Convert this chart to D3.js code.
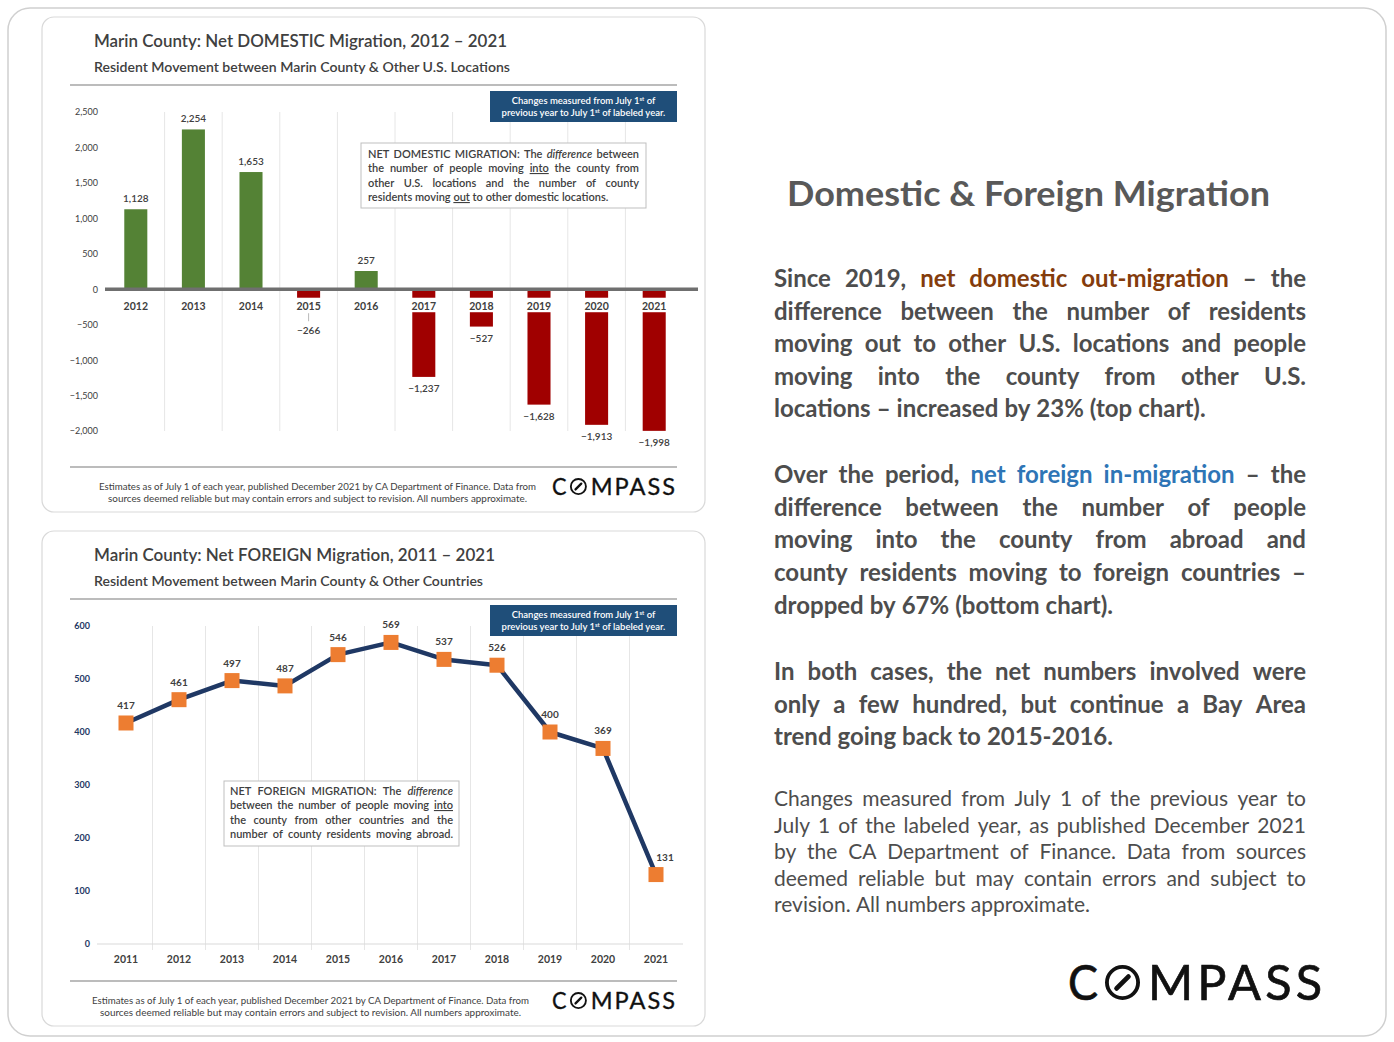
<!DOCTYPE html>
<html>
<head>
<meta charset="utf-8">
<script src="https://cdn.jsdelivr.net/npm/d3@7"></script>
<style>
  body { margin: 0; background: #fff; }
  svg text { font-family: Lato, "Open Sans", sans-serif; }
</style>
</head>
<body>
<svg id="lienzo" width="1394" height="1042"></svg>
<script>
// datos
let domYears = ["2012","2013","2014","2015","2016","2017","2018","2019","2020","2021"];
let domValues = [1128, 2254, 1653, -266, 257, -1237, -527, -1628, -1913, -1998];
let domTicks = [2500, 2000, 1500, 1000, 500, 0, -500, -1000, -1500, -2000];

let forYears = ["2011","2012","2013","2014","2015","2016","2017","2018","2019","2020","2021"];
let forValues = [417, 461, 497, 487, 546, 569, 537, 526, 400, 369, 131];
let forTicks = [0, 100, 200, 300, 400, 500, 600];

let gris = "#404040";
let verde = "#548235";
let rojo = "#a00000";
let navy = "#1f3864";
let naranja = "#ed7d31";
let caja = "#1f4e79";

let svg = d3.select("#lienzo");
let fmt = d3.format(",");

// marco exterior
svg.append("rect")
    .attr("x", 8).attr("y", 8).attr("width", 1378).attr("height", 1028)
    .attr("rx", 22)
    .style("fill", "#fff").style("stroke", "#d0d0d0").style("stroke-width", 1.5);

// ---------- utilidades ----------
function ajustar(sel, w) {
    sel.attr("textLength", w).attr("lengthAdjust", "spacingAndGlyphs");
    return sel;
}

function parrafo(g, lines, o) {
    let rows = lines.map((segs, li) => {
        let words = [];
        segs.forEach(s => {
            let st = (typeof s === "string") ? {t: s} : s;
            st.t.split(" ").filter(t => t != "").forEach(t => words.push(Object.assign({}, st, {t: t})));
        });
        let nodes = words.map(w => {
            let t = g.append("text")
                .attr("y", o.y + li * o.lh)
                .style("font-size", o.size + "px")
                .style("font-weight", o.weight)
                .style("fill", w.c || o.color)
                .text(w.t);
            if (w.i) t.style("font-style", "italic");
            if (w.u) t.style("text-decoration", "underline");
            return t;
        });
        let ws = nodes.map(n => n.node().getComputedTextLength());
        return {nodes: nodes, ws: ws, full: li < lines.length - 1 || o.lastFull};
    });
    let W = o.x1 - o.x0;
    let gapMin = o.size * 0.24;
    let k = 1;
    rows.forEach(r => {
        if (r.full) {
            let need = (W - gapMin * (r.ws.length - 1)) / d3.sum(r.ws);
            k = Math.min(k, need);
        }
    });
    rows.forEach(r => {
        let ws = r.ws.map(w => w * k);
        let gap = (r.full && ws.length > 1) ? (W - d3.sum(ws)) / (ws.length - 1) : o.size * 0.25;
        let x = o.x0;
        r.nodes.forEach((n, i) => {
            n.attr("x", x);
            if (k < 1) ajustar(n, ws[i]);
            x += ws[i] + gap;
        });
    });
}

function logo(g, x, y, w) {
    let h = w * 35 / 254;
    let fs = h / 0.72;
    let sw = h * 0.11;
    g.append("text").attr("x", x).attr("y", y)
        .style("font-size", fs + "px").style("font-weight", 400).style("fill", "#111")
        .style("stroke", "#111").style("stroke-width", h * 0.02)
        .attr("textLength", w * 30 / 254).attr("lengthAdjust", "spacingAndGlyphs")
        .text("C");
    let cx = x + w * 54.5 / 254, cy = y - h / 2, r = h / 2 - sw / 2;
    g.append("circle").attr("cx", cx).attr("cy", cy).attr("r", r)
        .style("fill", "none").style("stroke", "#111").style("stroke-width", sw);
    g.append("line")
        .attr("x1", cx - r * 0.38).attr("y1", cy + r * 0.38)
        .attr("x2", cx + r * 0.38).attr("y2", cy - r * 0.38)
        .style("stroke", "#111").style("stroke-width", sw * 1.25).style("stroke-linecap", "round");
    g.append("text").attr("x", x + w * 80 / 254).attr("y", y)
        .style("font-size", fs + "px").style("font-weight", 400).style("fill", "#111")
        .style("stroke", "#111").style("stroke-width", h * 0.02)
        .attr("textLength", w * 174 / 254).attr("lengthAdjust", "spacing")
        .text("MPASS");
}

function tarjeta(y0, titulo, tw, subtitulo, sw) {
    let g = svg.append("g");
    g.append("rect")
        .attr("x", 42).attr("y", y0).attr("width", 663).attr("height", 495).attr("rx", 12)
        .style("fill", "#fff").style("stroke", "#d9d9d9").style("stroke-width", 1.2);
    ajustar(g.append("text").attr("x", 94).attr("y", y0 + 30)
        .style("font-size", "17px").style("font-weight", 600).style("fill", gris)
        .text(titulo), tw);
    ajustar(g.append("text").attr("x", 94).attr("y", y0 + 55)
        .style("font-size", "12.5px").style("font-weight", 600).style("fill", gris)
        .text(subtitulo), sw);
    g.append("line").attr("x1", 70).attr("x2", 677).attr("y1", y0 + 68).attr("y2", y0 + 68)
        .style("stroke", "#a6a6a6").style("stroke-width", 1.5);
    g.append("line").attr("x1", 70).attr("x2", 677).attr("y1", y0 + 450).attr("y2", y0 + 450)
        .style("stroke", "#a6a6a6").style("stroke-width", 1.5);
    return g;
}

// caja azul, se dibuja al final para quedar encima de la rejilla
function cajaAzul(g, y0) {
    let b = g.append("g");
    b.append("rect").attr("x", 490).attr("y", y0 + 74).attr("width", 187).attr("height", 31)
        .style("fill", caja);
    let t1 = b.append("text").attr("x", 583.5).attr("y", y0 + 86.5)
        .style("text-anchor", "middle").style("font-size", "9.5px").style("font-weight", 600).style("fill", "#fff");
    t1.append("tspan").text("Changes measured from July 1");
    t1.append("tspan").attr("dy", -3).style("font-size", "6px").text("st");
    t1.append("tspan").attr("dy", 3).text(" of");
    let t2 = b.append("text").attr("x", 583.5).attr("y", y0 + 99)
        .style("text-anchor", "middle").style("font-size", "9.5px").style("font-weight", 600).style("fill", "#fff");
    t2.append("tspan").text("previous year to July 1");
    t2.append("tspan").attr("dy", -3).style("font-size", "6px").text("st");
    t2.append("tspan").attr("dy", 3).text(" of labeled year.");
}

function pie(g, y0, x1a, x1b, x2a, x2b) {
    ajustar(g.append("text").attr("x", x1a).attr("y", y0 + 473)
        .style("font-size", "8.5px").style("fill", gris)
        .text("Estimates as of July 1 of each year, published December 2021 by CA Department of Finance. Data from"), x1b - x1a);
    ajustar(g.append("text").attr("x", x2a).attr("y", y0 + 485)
        .style("font-size", "8.5px").style("fill", gris)
        .text("sources deemed reliable but may contain errors and subject to revision. All numbers approximate."), x2b - x2a);
    logo(g, 552, y0 + 478, 123);
}

// ---------- grafica 1: migracion domestica ----------
let g1 = tarjeta(17, "Marin County: Net DOMESTIC Migration, 2012 – 2021", 413,
    "Resident Movement between Marin County & Other U.S. Locations", 416);

let x1 = d3.scaleBand().domain(domYears).range([107, 683]).paddingInner(0).paddingOuter(0);
let y1 = d3.scaleLinear().domain([-2000, 2500]).range([431, 112]);
let bw1 = x1.bandwidth() * 0.4;

g1.selectAll(".grid1")
    .data(domYears.slice(1))
    .enter()
    .append("line")
    .attr("x1", d => x1(d)).attr("x2", d => x1(d))
    .attr("y1", y1(2500)).attr("y2", y1(-2000))
    .style("stroke", "#e6e6e6").style("stroke-width", 1);

let ax1 = g1.append("g")
    .attr("transform", "translate(98,0)")
    .call(d3.axisLeft(y1).tickValues(domTicks).tickSize(0).tickPadding(0).tickFormat(fmt));
ax1.select(".domain").remove();
ax1.selectAll("text").style("font-size", "9px").style("fill", gris).style("font-family", "Lato, sans-serif");

g1.selectAll(".barra")
    .data(domValues)
    .enter()
    .append("rect")
    .attr("x", (d, i) => x1(domYears[i]) + (x1.bandwidth() - bw1) / 2)
    .attr("y", d => d >= 0 ? y1(d) : y1(0))
    .attr("width", bw1)
    .attr("height", d => Math.abs(y1(d) - y1(0)))
    .style("fill", d => d >= 0 ? verde : rojo);

g1.append("line")
    .attr("x1", 105).attr("x2", 698).attr("y1", y1(0)).attr("y2", y1(0))
    .style("stroke", "#6f6f6f").style("stroke-width", 3.5);

// fondo blanco tras los años
g1.selectAll(".fondo")
    .data(domYears)
    .enter()
    .append("rect")
    .attr("x", d => x1(d) + x1.bandwidth() / 2 - 16)
    .attr("y", y1(0) + 8.5)
    .attr("width", 32).attr("height", 14.5)
    .style("fill", "#fff");

g1.selectAll(".anio")
    .data(domYears)
    .enter()
    .append("text")
    .attr("x", d => x1(d) + x1.bandwidth() / 2)
    .attr("y", y1(0) + 20.5)
    .style("text-anchor", "middle").style("font-size", "10.5px").style("font-weight", 700).style("fill", gris)
    .text(d => d);

g1.selectAll(".valor")
    .data(domValues)
    .enter()
    .append("text")
    .attr("x", (d, i) => x1(domYears[i]) + x1.bandwidth() / 2)
    .attr("y", d => d >= 0 ? y1(d) - 7 : Math.max(y1(d) + 12, y1(0) + 41) + 3.5)
    .style("text-anchor", "middle").style("font-size", "10px").style("font-weight", 600).style("fill", gris)
    .text(d => fmt(d));

// guias de etiquetas
domValues.forEach((d, i) => {
    if (d < 0) {
        let ly = Math.max(y1(d) + 12, y1(0) + 41);
        let top = Math.max(y1(d), y1(0) + 23);
        if (ly - 10 - top > 3) {
            g1.append("line")
                .attr("x1", x1(domYears[i]) + x1.bandwidth() / 2).attr("x2", x1(domYears[i]) + x1.bandwidth() / 2)
                .attr("y1", top + 1).attr("y2", ly - 9)
                .style("stroke", "#a6a6a6").style("stroke-width", 0.8);
        }
    }
});

// nota
g1.append("rect").attr("x", 361).attr("y", 143).attr("width", 285).attr("height", 65)
    .style("fill", "#fff").style("stroke", "#bfbfbf").style("stroke-width", 1);
parrafo(g1, [
    ["NET DOMESTIC MIGRATION: The ", {t: "difference", i: true}, " between"],
    ["the number of people moving ", {t: "into", u: true}, " the county from"],
    ["other U.S. locations and the number of county"],
    ["residents moving ", {t: "out", u: true}, " to other domestic locations."]
], {x0: 368, x1: 639, y: 157.5, lh: 14.5, size: 11, weight: 600, color: gris});

cajaAzul(g1, 17);
pie(g1, 17, 99, 536, 108, 527);

// ---------- grafica 2: migracion extranjera ----------
let g2 = tarjeta(531, "Marin County: Net FOREIGN Migration, 2011 – 2021", 401,
    "Resident Movement between Marin County & Other Countries", 389);

let x2 = d3.scaleBand().domain(forYears).range([99.5, 682.5]).paddingInner(0).paddingOuter(0);
let y2 = d3.scaleLinear().domain([0, 600]).range([944, 626]);

g2.selectAll(".grid2")
    .data(forYears.slice(1))
    .enter()
    .append("line")
    .attr("x1", d => x2(d)).attr("x2", d => x2(d))
    .attr("y1", y2(600)).attr("y2", y2(0) + 6)
    .style("stroke", "#e6e6e6").style("stroke-width", 1);

g2.append("line").attr("x1", 97).attr("x2", 683).attr("y1", y2(0)).attr("y2", y2(0))
    .style("stroke", "#d9d9d9").style("stroke-width", 1.2);

let ax2 = g2.append("g")
    .attr("transform", "translate(90,0)")
    .call(d3.axisLeft(y2).tickValues(forTicks).tickSize(0).tickPadding(0));
ax2.select(".domain").remove();
ax2.selectAll("text").style("font-size", "9px").style("font-weight", 700).style("fill", navy).style("font-family", "Lato, sans-serif");

let ax2b = g2.append("g")
    .attr("transform", "translate(0," + y2(0) + ")")
    .call(d3.axisBottom(x2).tickSize(0).tickPadding(12));
ax2b.select(".domain").remove();
ax2b.selectAll("text").style("font-size", "10.5px").style("font-weight", 700).style("fill", gris).style("font-family", "Lato, sans-serif");

cajaAzul(g2, 531);

let linea = d3.line()
    .x((d, i) => x2(forYears[i]) + x2.bandwidth() / 2)
    .y(d => y2(d));

g2.append("path")
    .datum(forValues)
    .attr("d", linea)
    .style("fill", "none").style("stroke", navy).style("stroke-width", 4.5).style("stroke-linejoin", "round");

g2.selectAll(".marca")
    .data(forValues)
    .enter()
    .append("rect")
    .attr("x", (d, i) => x2(forYears[i]) + x2.bandwidth() / 2 - 7.5)
    .attr("y", d => y2(d) - 7.5)
    .attr("width", 15).attr("height", 15)
    .style("fill", naranja);

g2.selectAll(".valor2")
    .data(forValues)
    .enter()
    .append("text")
    .attr("x", (d, i) => x2(forYears[i]) + x2.bandwidth() / 2 + (i == forValues.length - 1 ? 9 : 0))
    .attr("y", d => y2(d) - 14)
    .style("text-anchor", "middle").style("font-size", "10px").style("font-weight", 700).style("fill", gris)
    .text(d => d);

g2.append("rect").attr("x", 224).attr("y", 781).attr("width", 235).attr("height", 65)
    .style("fill", "#fff").style("stroke", "#bfbfbf").style("stroke-width", 1);
parrafo(g2, [
    ["NET FOREIGN MIGRATION: The ", {t: "difference", i: true}],
    ["between the number of people moving ", {t: "into", u: true}],
    ["the county from other countries and the"],
    ["number of county residents moving abroad."]
], {x0: 230, x1: 453, y: 794.5, lh: 14.5, size: 11, weight: 600, color: gris, lastFull: true});

pie(g2, 531, 92, 529, 100, 521);

// ---------- texto derecho ----------
let gt = svg.append("g");
ajustar(gt.append("text").attr("x", 787).attr("y", 206)
    .style("font-size", "34px").style("font-weight", 700).style("fill", "#595959")
    .text("Domestic & Foreign Migration"), 483);

let cuerpo = "#4d4d4d";
parrafo(gt, [
    ["Since 2019, ", {t: "net domestic out-migration", c: "#843c0c"}, " – the"],
    ["difference between the number of residents"],
    ["moving out to other U.S. locations and people"],
    ["moving into the county from other U.S."],
    ["locations – increased by 23% (top chart)."]
], {x0: 774, x1: 1306, y: 287, lh: 32.6, size: 24, weight: 700, color: cuerpo});

parrafo(gt, [
    ["Over the period, ", {t: "net foreign in-migration", c: "#2e75b6"}, " – the"],
    ["difference between the number of people"],
    ["moving into the county from abroad and"],
    ["county residents moving to foreign countries –"],
    ["dropped by 67% (bottom chart)."]
], {x0: 774, x1: 1306, y: 483, lh: 32.7, size: 24, weight: 700, color: cuerpo});

parrafo(gt, [
    ["In both cases, the net numbers involved were"],
    ["only a few hundred, but continue a Bay Area"],
    ["trend going back to 2015-2016."]
], {x0: 774, x1: 1306, y: 680, lh: 32.5, size: 24, weight: 700, color: cuerpo});

parrafo(gt, [
    ["Changes measured from July 1 of the previous year to"],
    ["July 1 of the labeled year, as published December 2021"],
    ["by the CA Department of Finance. Data from sources"],
    ["deemed reliable but may contain errors and subject to"],
    ["revision. All numbers approximate."]
], {x0: 774, x1: 1306, y: 806, lh: 26.5, size: 21, weight: 400, color: cuerpo});

logo(gt, 1068, 1000, 254);
</script>
</body>
</html>
